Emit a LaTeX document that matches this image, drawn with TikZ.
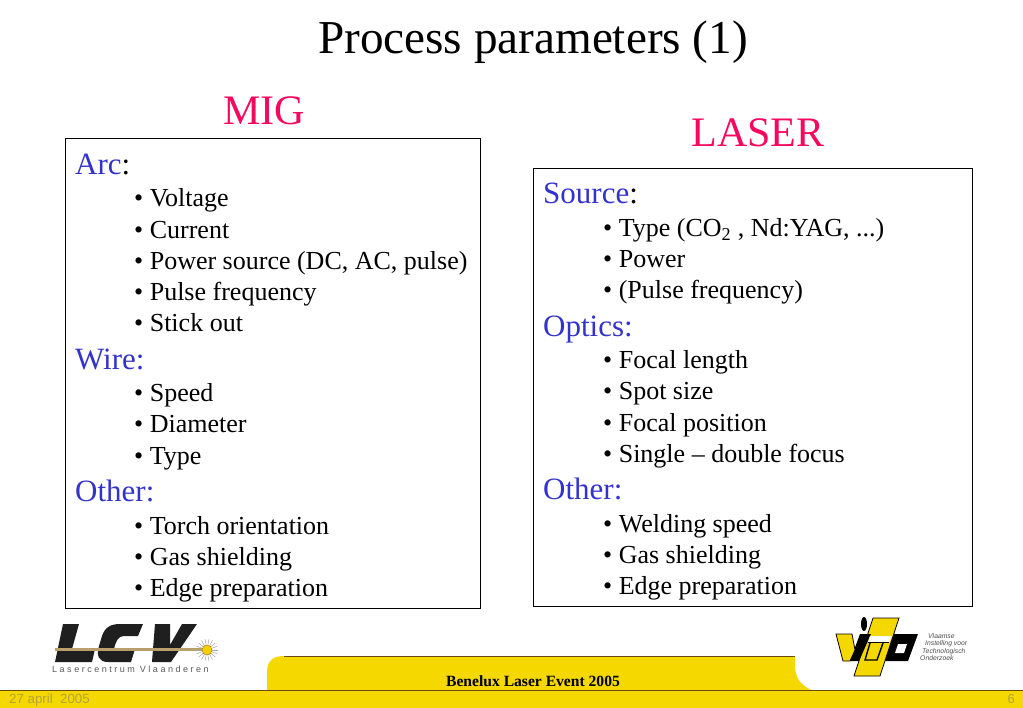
\documentclass[tikz,border=0pt]{standalone}
\usepackage{fontspec}
\setmainfont{Liberation Serif}
\setsansfont{Liberation Sans}
\newfontfamily\logofont[LetterSpace=28]{Liberation Sans}
\definecolor{bandyellow}{HTML}{F5D800}
\definecolor{bandline}{HTML}{6B4A10}
\definecolor{bandtext}{HTML}{B5A336}
\definecolor{headred}{HTML}{F5085F}
\definecolor{headblue}{HTML}{3333CC}
\definecolor{barcolor}{HTML}{B8A068}
\tikzset{
  panel/.style={draw=black,line width=.9pt,fill=white},
  titletext/.style={anchor=base,font=\fontsize{47.2}{47.2}\selectfont},
  headtext/.style={anchor=base,font=\fontsize{42}{42}\selectfont,text=headred},
  grouptext/.style={anchor=base west,inner sep=0pt,font=\fontsize{31}{31}\selectfont,text=headblue},
  itemtext/.style={anchor=base west,inner sep=0pt,font=\fontsize{26}{26}\selectfont},
  vitotext/.style={anchor=base west,inner sep=0pt,text=black!70,font=\sffamily\itshape\fontsize{6.8}{6.8}\selectfont},
  vitoshape/.style={fill=bandyellow,draw=black,line width=.8pt}
}
\begin{document}
\begin{tikzpicture}[x=1pt,y=-1pt]
  \useasboundingbox (0,0) rectangle (1023,708);

  \node[titletext] (title) at (533,54) {Process parameters (1)};
  \node[headtext] (mighead) at (264,125) {MIG};
  \node[headtext] (laserhead) at (758,147) {LASER};

  \draw[panel] (65,138) rectangle (480.5,608.5);
  \draw[panel] (533,168) rectangle (972.5,606.5);

  % left box
  \node[grouptext] (arc) at (75,174.5) {Arc\textcolor{black}{:}};
  \node[itemtext] (m1) at (134,207) {• Voltage};
  \node[itemtext] (m2) at (134,238.4) {• Current};
  \node[itemtext] (m3) at (134,270) {• Power source (DC, AC, pulse)};
  \node[itemtext] (m4) at (134,301) {• Pulse frequency};
  \node[itemtext] (m5) at (134,332) {• Stick out};
  \node[grouptext] (wire) at (75,370) {Wire:};
  \node[itemtext] (m6) at (134,402) {• Speed};
  \node[itemtext] (m7) at (134,433) {• Diameter};
  \node[itemtext] (m8) at (134,464.4) {• Type};
  \node[grouptext] (migother) at (75,501) {Other:};
  \node[itemtext] (m9) at (134,534) {• Torch orientation};
  \node[itemtext] (m10) at (134,565) {• Gas shielding};
  \node[itemtext] (m11) at (134,596.4) {• Edge preparation};

  % right box
  \node[grouptext] (source) at (543,203.5) {Source\textcolor{black}{:}};
  \node[itemtext] (l1) at (603,237) {• Type (CO$_{\mathrm{2}}$ , Nd:YAG, ...)};
  \node[itemtext] (l2) at (603,268) {• Power};
  \node[itemtext] (l3) at (603,299) {• (Pulse frequency)};
  \node[grouptext] (optics) at (543,336.5) {Optics:};
  \node[itemtext] (l4) at (603,369) {• Focal length};
  \node[itemtext] (l5) at (603,400) {• Spot size};
  \node[itemtext] (l6) at (603,431.4) {• Focal position};
  \node[itemtext] (l7) at (603,463) {• Single – double focus};
  \node[grouptext] (laserother) at (543,499) {Other:};
  \node[itemtext] (l8) at (603,532) {• Welding speed};
  \node[itemtext] (l9) at (603,563) {• Gas shielding};
  \node[itemtext] (l10) at (603,594.4) {• Edge preparation};

  % yellow band
  \fill[bandyellow] (0,691) rectangle (1023,708);
  \fill[bandyellow] (267,691) -- (267,672) .. controls (267,661) and (273,656) .. (284,656)
    -- (795,656) -- (795,668) .. controls (796,680) and (803,687) .. (814,691) -- cycle;
  \draw[bandline,line width=.6pt] (284,656) -- (795,656);
  \draw[bandline,line width=1pt] (0,690.5) -- (1023,690.5);
  \node[anchor=base,font=\fontsize{15.6}{15.6}\selectfont\bfseries] (event) at (533,686) {Benelux Laser Event 2005};
  \node[anchor=base west,inner sep=0pt,text=bandtext,font=\sffamily\fontsize{13.3}{13.3}\selectfont] (date) at (9,703) {27 april\ \ 2005};
  \node[anchor=base east,inner sep=0pt,text=bandtext,font=\sffamily\fontsize{13}{13}\selectfont] (page) at (1015,703) {6};

  % LCV logo
  \fill[black!88] (63,624) -- (79,624) -- (72,649) -- (95,649) -- (92,662) -- (55,662) -- cycle;
  \fill[black!88] (143,624) -- (138,636) -- (124,636) .. controls (118,636) and (116,641) .. (114,649)
    -- (135,649) -- (131,662) -- (108,662) .. controls (99,662) and (96,656) .. (99,646)
    -- (102,636) .. controls (105,627) and (111,624) .. (120,624) -- cycle;
  \fill[black!88] (155,624) -- (170,624) -- (170,645) -- (182,624) -- (197,624) -- (171,662) -- (152,662) -- cycle;
  \draw[barcolor,line width=2.2pt] (55,649.5) -- (203,649.5);
  \foreach \ang in {0,20,...,340}
    \draw[gray!70,line width=.5pt] (207,650) -- +(\ang:11);
  \fill[bandyellow!90!orange,draw=orange!70!black,line width=.3pt] (207,650) circle (5);
  \node[anchor=base west,inner sep=0pt,text=black!65,font=\logofont\fontsize{9}{9}\selectfont] (lcvtext) at (52,672.5) {Lasercentrum Vlaanderen};

  % VITO logo
  \fill[black] (890,634) -- (918,634) -- (908,661) -- (880,661) -- cycle;
  \fill[white] (898,644) -- (907,644) -- (904,653) -- (895,653) -- cycle;
  \filldraw[vitoshape] (873,618) -- (899,618) -- (880,676) -- (854,676) -- cycle;
  \fill[black] (864,624) ellipse (3 and 7);
  \fill[black] (860,634) -- (871,634) -- (859,661) -- (850,661) -- cycle;
  \filldraw[vitoshape] (836,634) -- (852,634) -- (855,650) -- (850,661) -- (843,661) -- cycle;
  \fill[white] (870,636) -- (892,636) -- (889,642) -- (868,642) -- cycle;
  \draw[black,line width=1.4pt] (870,643) -- (865,660) -- (877,660) -- (883,643);
  \draw[black,line width=.8pt] (868,642.5) -- (889,642.5);
  \node[vitotext] (vito1) at (928,638) {Vlaamse};
  \node[vitotext] (vito2) at (925,645.5) {Instelling voor};
  \node[vitotext] (vito3) at (922,653) {Technologisch};
  \node[vitotext] (vito4) at (920,660.5) {Onderzoek};
\end{tikzpicture}
\end{document}
